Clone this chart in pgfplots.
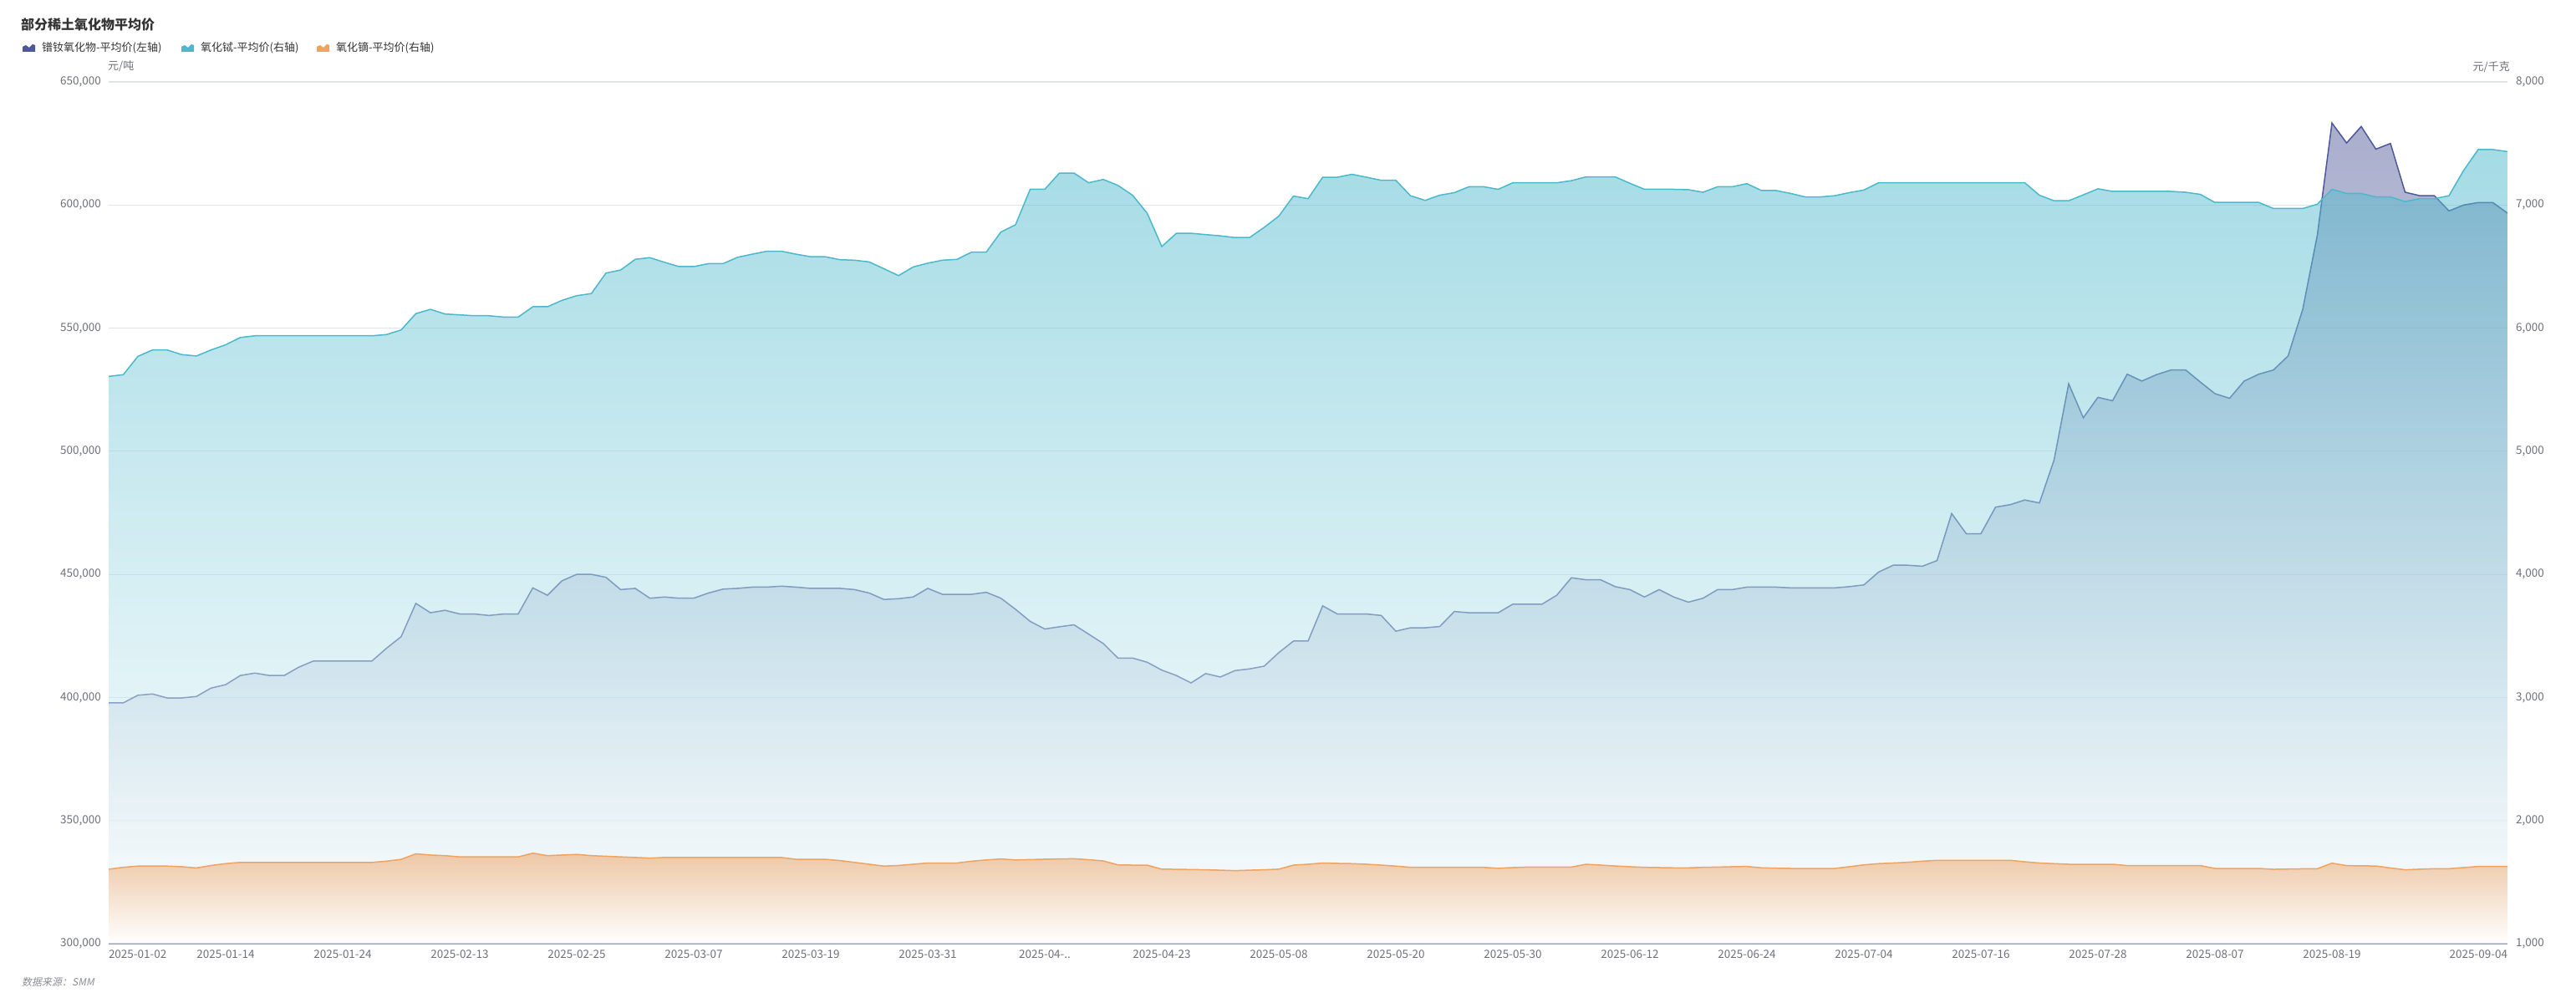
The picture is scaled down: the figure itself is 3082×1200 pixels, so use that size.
\documentclass[border=0pt]{standalone}
\usepackage{fontspec}
\setmainfont{Noto Sans CJK SC}
\newfontfamily\cjkit[FakeSlant=0.2]{Noto Sans CJK SC}
\usepackage{pgfplots}
\usepackage{pgfplotstable}
\pgfplotsset{compat=1.18}
\definecolor{prc}{HTML}{4E5899}
\definecolor{prf}{HTML}{535D9B}
\definecolor{tbc}{HTML}{4BB8CC}
\definecolor{dyc}{HTML}{F0A35E}
\definecolor{dyf}{HTML}{EC9A55}
\definecolor{gridc}{HTML}{E0E3E8}
\definecolor{axc}{HTML}{9AA3B3}
\definecolor{labc}{HTML}{6E7079}
\definecolor{titc}{HTML}{333333}
\pgfplotstableread{
x prnd tb dy
0 397800 5608 1605
1 397800 5622 1620
2 400900 5771 1630
3 401400 5823 1630
4 399800 5823 1630
5 399800 5785 1625
6 400400 5774 1615
7 403800 5823 1635
8 405200 5865 1650
9 408900 5924 1660
10 409900 5938 1660
11 408900 5938 1660
12 408900 5938 1660
13 412300 5938 1660
14 414800 5938 1660
15 414800 5938 1660
16 414800 5938 1660
17 414800 5938 1660
18 414800 5938 1660
19 420000 5948 1670
20 424700 5986 1685
21 438200 6118 1730
22 434400 6153 1720
23 435400 6115 1715
24 433900 6108 1705
25 433900 6101 1705
26 433300 6101 1705
27 433900 6090 1705
28 433900 6090 1705
29 444500 6174 1735
30 441500 6174 1715
31 447400 6226 1720
32 450000 6264 1725
33 450000 6281 1715
34 448800 6448 1710
35 443800 6472 1705
36 444300 6559 1700
37 440300 6573 1695
38 440800 6535 1700
39 440300 6500 1700
40 440300 6500 1700
41 442400 6524 1700
42 444000 6524 1700
43 444300 6576 1700
44 444800 6601 1700
45 444800 6625 1700
46 445200 6625 1700
47 444800 6601 1685
48 444300 6580 1685
49 444300 6580 1685
50 444300 6556 1675
51 443800 6552 1660
52 442400 6538 1645
53 439800 6483 1630
54 440100 6427 1635
55 440800 6497 1645
56 444300 6528 1655
57 441900 6552 1655
58 441900 6559 1655
59 441900 6618 1670
60 442700 6618 1680
61 440300 6781 1688
62 435800 6840 1680
63 430900 7128 1683
64 427800 7128 1686
65 428700 7260 1688
66 429500 7260 1690
67 425700 7181 1682
68 421900 7208 1672
69 416000 7160 1640
70 416000 7080 1638
71 414300 6934 1638
72 411100 6663 1605
73 408900 6771 1604
74 405900 6771 1602
75 409700 6760 1600
76 408300 6750 1597
77 410900 6736 1593
78 411600 6736 1597
79 412700 6819 1600
80 418200 6910 1605
81 422900 7073 1638
82 422900 7052 1645
83 437200 7226 1655
84 433900 7226 1652
85 433900 7250 1650
86 433900 7226 1645
87 433300 7201 1638
88 426900 7201 1630
89 428300 7076 1620
90 428300 7038 1620
91 428800 7080 1620
92 434900 7101 1620
93 434400 7149 1620
94 434400 7149 1620
95 434400 7128 1612
96 437900 7181 1618
97 437900 7181 1622
98 437900 7181 1622
99 441500 7181 1622
100 448600 7198 1622
101 447800 7229 1645
102 447800 7229 1638
103 445000 7229 1631
104 443800 7177 1625
105 440800 7128 1620
106 443800 7128 1618
107 440800 7128 1616
108 438700 7125 1616
109 440300 7104 1620
110 443800 7149 1622
111 443800 7149 1625
112 444800 7174 1627
113 444800 7118 1616
114 444800 7118 1613
115 444500 7094 1611
116 444500 7066 1611
117 444500 7066 1611
118 444500 7076 1611
119 445000 7101 1625
120 445700 7122 1640
121 450900 7181 1650
122 453700 7181 1655
123 453700 7181 1661
124 453300 7181 1670
125 455600 7181 1677
126 474700 7181 1677
127 466500 7181 1677
128 466500 7181 1677
129 477300 7181 1677
130 478300 7181 1677
131 480200 7181 1665
132 479000 7080 1655
133 496400 7035 1650
134 527400 7035 1645
135 513600 7083 1645
136 521900 7132 1645
137 520500 7111 1645
138 531300 7111 1634
139 528500 7111 1634
140 531100 7111 1634
141 533000 7111 1634
142 533000 7104 1634
143 528100 7087 1634
144 523400 7021 1611
145 521500 7021 1611
146 528500 7021 1611
147 531300 7021 1611
148 533000 6972 1604
149 538700 6972 1606
150 557600 6972 1608
151 587800 7007 1609
152 633300 7128 1654
153 625200 7094 1634
154 631900 7094 1632
155 622700 7066 1631
156 625000 7066 1615
157 605200 7028 1600
158 603800 7052 1605
159 603800 7052 1609
160 597600 7076 1609
161 600000 7281 1618
162 601000 7451 1627
163 601000 7451 1627
164 596700 7434 1627
}\data
\newcommand{\tickfont}{\fontsize{13.5bp}{16bp}\selectfont}
\pgfplotsset{
  base/.style={
    at={(130bp,71bp)}, anchor=south west,
    width=2870bp, height=1031bp, scale only axis,
    xmin=0, xmax=164,
    major tick length=0pt,
    /pgf/number format/.cd, fixed, 1000 sep={,}, assume math mode=true, /pgfplots/.cd,
    tick label style={font=\tickfont, text=labc},
  },
}
\begin{document}
\begin{tikzpicture}
\path[use as bounding box] (0,0) rectangle (3082bp,1200bp);
% PrNd (left axis) with grid
\begin{axis}[base,
  ymin=300000, ymax=650000, ytick={300000,350000,...,650000},
  scaled y ticks=false,
  axis y line*=left, y axis line style={draw=none},
  axis x line=none,
  ymajorgrids, grid style={color=gridc, line width=1.2bp},
  yticklabel style={anchor=east, inner sep=0pt, xshift=-9bp},
]
\addplot[draw=none, fill opacity=0.5, top color=prf, bottom color=white] table[x=x, y=prnd] {\data} \closedcycle;
\addplot[color=prc, line width=1.5bp, mark=none] table[x=x, y=prnd] {\data};
\end{axis}
% Tb (right axis)
\begin{axis}[base,
  ymin=1000, ymax=8000, ytick={1000,2000,...,8000},
  axis y line*=right, y axis line style={draw=none},
  axis x line=none,
  yticklabel style={anchor=west, inner sep=0pt, xshift=10bp},
]
\addplot[draw=none, fill opacity=0.5, top color=tbc, bottom color=white] table[x=x, y=tb] {\data} \closedcycle;
\addplot[color=tbc, line width=1.5bp, mark=none] table[x=x, y=tb] {\data};
\end{axis}
% Dy (right axis) with x axis
\begin{axis}[base,
  ymin=1000, ymax=8000,
  axis y line=none,
  axis x line*=bottom, x axis line style={color=axc, line width=1.5bp, -},
  xtick={0,8,16,24,32,40,48,56,64,72,80,88,96,104,112,120,128,136,144,152,164},
  xticklabels={\rlap{2025-01-02},2025-01-14,2025-01-24,2025-02-13,2025-02-25,2025-03-07,2025-03-19,2025-03-31,2025-04-..,2025-04-23,2025-05-08,2025-05-20,2025-05-30,2025-06-12,2025-06-24,2025-07-04,2025-07-16,2025-07-28,2025-08-07,2025-08-19,\llap{2025-09-04}},
  xticklabel style={anchor=north, inner sep=0pt, yshift=-8bp},
]
\addplot[draw=none, fill opacity=0.5, top color=dyf, bottom color=white] table[x=x, y=dy] {\data} \closedcycle;
\addplot[color=dyc, line width=1.5bp, mark=none] table[x=x, y=dy] {\data};
\end{axis}
% title, legend, units, source
\node[anchor=west, inner sep=0pt, text=titc, font=\fontsize{16bp}{19bp}\selectfont\bfseries] at (25bp,1171bp) {部分稀土氧化物平均价};
\fill[prc] (27bp,1138bp) -- (27bp,1144bp) -- (31bp,1146bp) -- (35bp,1143bp) -- (39bp,1147bp) -- (42bp,1146bp) -- (42bp,1138bp) -- cycle;
\node[anchor=west, inner sep=0pt, text=titc, font=\fontsize{13bp}{16bp}\selectfont] at (50bp,1143bp) {镨钕氧化物-平均价(左轴)};
\fill[tbc] (217bp,1138bp) -- (217bp,1144bp) -- (221bp,1146bp) -- (225bp,1143bp) -- (229bp,1147bp) -- (232bp,1146bp) -- (232bp,1138bp) -- cycle;
\node[anchor=west, inner sep=0pt, text=titc, font=\fontsize{13bp}{16bp}\selectfont] at (240bp,1143bp) {氧化铽-平均价(右轴)};
\fill[dyc] (379bp,1138bp) -- (379bp,1144bp) -- (383bp,1146bp) -- (387bp,1143bp) -- (391bp,1147bp) -- (394bp,1146bp) -- (394bp,1138bp) -- cycle;
\node[anchor=west, inner sep=0pt, text=titc, font=\fontsize{13bp}{16bp}\selectfont] at (402bp,1143bp) {氧化镝-平均价(右轴)};
\node[anchor=west, inner sep=0pt, text=labc, font=\fontsize{13bp}{16bp}\selectfont] at (129bp,1121bp) {元/吨};
\node[anchor=east, inner sep=0pt, text=labc, font=\fontsize{13bp}{16bp}\selectfont] at (3003bp,1120bp) {元/千克};
\node[anchor=west, inner sep=0pt, text=labc!80, font=\fontsize{12bp}{14bp}\selectfont\cjkit] at (26bp,25bp) {数据来源：SMM};
\end{tikzpicture}
\end{document}
